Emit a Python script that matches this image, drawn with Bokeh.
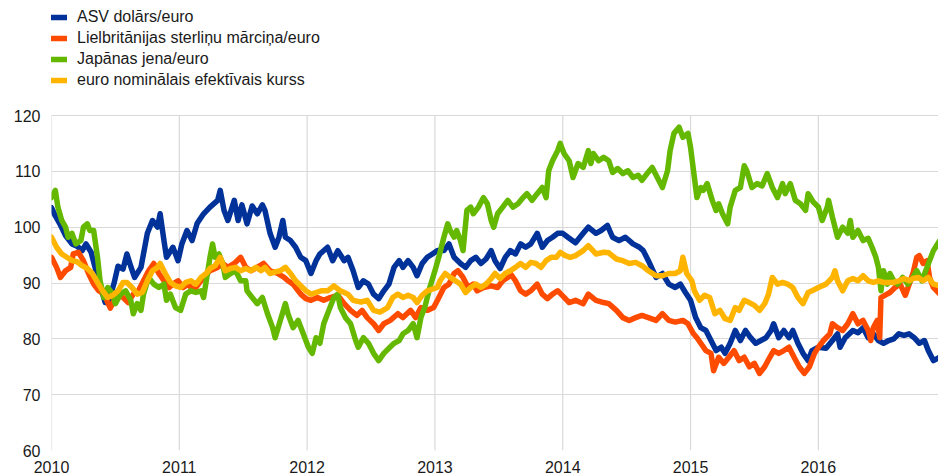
from bokeh.plotting import figure
from bokeh.models import Range1d, FixedTicker, Legend, LegendItem
from bokeh.embed import file_html
from bokeh.resources import INLINE

# ---- data (decimal years, index values) ----
usd_x = [2010.00, 2010.03, 2010.07, 2010.11, 2010.16, 2010.20, 2010.24, 2010.27, 2010.31, 2010.35,
         2010.38, 2010.42, 2010.45, 2010.49, 2010.52, 2010.56, 2010.59, 2010.62, 2010.65, 2010.70,
         2010.75, 2010.79, 2010.83, 2010.85, 2010.88, 2010.90, 2010.95, 2010.99, 2011.02, 2011.06,
         2011.10, 2011.14, 2011.19, 2011.24, 2011.30, 2011.32, 2011.35, 2011.38, 2011.43, 2011.46,
         2011.49, 2011.53, 2011.57, 2011.61, 2011.65, 2011.67, 2011.71, 2011.75, 2011.78, 2011.81,
         2011.83, 2011.87, 2011.91, 2011.95, 2011.99, 2012.03, 2012.07, 2012.10, 2012.16, 2012.20,
         2012.24, 2012.29, 2012.32, 2012.36, 2012.40, 2012.44, 2012.48, 2012.52, 2012.56, 2012.60,
         2012.64, 2012.68, 2012.72, 2012.75, 2012.79, 2012.83, 2012.86, 2012.90, 2012.94, 2012.98,
         2013.02, 2013.07, 2013.11, 2013.15, 2013.20, 2013.24, 2013.28, 2013.32, 2013.36, 2013.40,
         2013.44, 2013.47, 2013.51, 2013.55, 2013.59, 2013.63, 2013.67, 2013.71, 2013.75, 2013.80,
         2013.84, 2013.88, 2013.92, 2013.96, 2014.00, 2014.04, 2014.10, 2014.16, 2014.20, 2014.26,
         2014.30, 2014.35, 2014.39, 2014.44, 2014.49, 2014.55, 2014.60, 2014.63, 2014.67, 2014.73,
         2014.78, 2014.83, 2014.88, 2014.92, 2014.96, 2015.00, 2015.04, 2015.08, 2015.12, 2015.16,
         2015.20, 2015.24, 2015.27, 2015.31, 2015.35, 2015.39, 2015.43, 2015.47, 2015.51, 2015.55,
         2015.59, 2015.63, 2015.65, 2015.69, 2015.73, 2015.77, 2015.80, 2015.84, 2015.88, 2015.92,
         2015.95, 2016.00, 2016.06, 2016.11, 2016.15, 2016.17, 2016.21, 2016.27, 2016.31, 2016.35,
         2016.39, 2016.43, 2016.47, 2016.51, 2016.55, 2016.59, 2016.63, 2016.67, 2016.71, 2016.75,
         2016.79, 2016.83, 2016.86, 2016.90, 2016.95]
usd_y = [103.5, 102.0, 100.4, 98.5, 97.0, 96.6, 95.8, 97.0, 95.5, 92.0,
         89.5, 86.5, 87.0, 90.0, 93.0, 92.5, 95.2, 93.0, 91.0, 92.8,
         98.9, 101.2, 100.0, 102.4, 97.6, 94.6, 96.4, 94.0, 97.0, 99.4,
         97.6, 100.7, 102.4, 103.6, 104.8, 106.6, 103.0, 101.2, 104.8, 101.2,
         104.0, 100.6, 103.8, 102.4, 104.0, 103.0, 98.9, 96.4, 98.2, 101.2,
         98.2, 97.6, 96.4, 94.6, 94.0, 91.7, 94.0, 95.2, 96.4, 94.0,
         95.8, 94.0, 94.6, 92.2, 89.2, 90.4, 89.8, 88.0, 87.2, 88.6,
         89.8, 92.8, 94.0, 92.8, 94.0, 92.8, 91.3, 93.5, 94.6, 95.2,
         95.8, 95.8, 97.0, 94.6, 93.5, 92.8, 94.0, 94.6, 93.5, 94.3,
         95.8, 94.0, 92.6, 94.6, 95.8, 95.2, 97.0, 96.4, 97.0, 98.9,
         96.4, 97.6, 98.2, 98.9, 98.9, 98.2, 97.2, 98.9, 100.0, 98.9,
         99.4, 100.3, 98.2, 97.6, 98.2, 97.0, 96.4, 95.8, 94.0, 91.0,
         91.7, 89.8, 89.2, 89.8, 88.3, 86.9, 83.8, 82.0, 81.5, 79.7,
         77.9, 78.5, 77.4, 79.2, 81.5, 79.7, 81.5, 80.2, 79.2, 79.7,
         80.2, 81.5, 82.7, 80.2, 81.5, 80.2, 81.5, 79.2, 77.4, 76.1,
         77.9, 78.5, 78.3, 79.7, 80.9, 78.5, 80.2, 81.5, 81.1, 82.0,
         80.2, 80.9, 79.7, 79.2, 79.7, 80.0, 80.9, 80.6, 80.9, 80.2,
         79.2, 79.7, 77.9, 76.1, 76.7]

gbp_x = [2010.00, 2010.04, 2010.07, 2010.11, 2010.15, 2010.17, 2010.21, 2010.25, 2010.29, 2010.33,
         2010.37, 2010.41, 2010.46, 2010.49, 2010.52, 2010.56, 2010.60, 2010.64, 2010.68, 2010.72,
         2010.76, 2010.80, 2010.84, 2010.88, 2010.92, 2010.95, 2010.99, 2011.03, 2011.07, 2011.11,
         2011.15, 2011.19, 2011.24, 2011.30, 2011.34, 2011.38, 2011.43, 2011.48, 2011.52, 2011.56,
         2011.61, 2011.66, 2011.71, 2011.77, 2011.82, 2011.85, 2011.89, 2011.95, 2011.99, 2012.03,
         2012.08, 2012.13, 2012.18, 2012.24, 2012.29, 2012.34, 2012.39, 2012.43, 2012.47, 2012.52,
         2012.56, 2012.60, 2012.65, 2012.71, 2012.75, 2012.81, 2012.85, 2012.89, 2012.94, 2012.99,
         2013.02, 2013.07, 2013.11, 2013.15, 2013.18, 2013.22, 2013.26, 2013.30, 2013.33, 2013.38,
         2013.44, 2013.49, 2013.53, 2013.57, 2013.59, 2013.63, 2013.67, 2013.71, 2013.75, 2013.80,
         2013.84, 2013.88, 2013.92, 2013.96, 2014.00, 2014.05, 2014.10, 2014.16, 2014.20, 2014.26,
         2014.32, 2014.36, 2014.42, 2014.47, 2014.52, 2014.57, 2014.62, 2014.67, 2014.73, 2014.78,
         2014.83, 2014.88, 2014.94, 2014.98, 2015.02, 2015.05, 2015.08, 2015.12, 2015.16, 2015.18,
         2015.22, 2015.26, 2015.30, 2015.34, 2015.38, 2015.42, 2015.46, 2015.50, 2015.54, 2015.58,
         2015.62, 2015.65, 2015.69, 2015.73, 2015.77, 2015.81, 2015.85, 2015.89, 2015.93, 2015.97,
         2016.00, 2016.04, 2016.09, 2016.11, 2016.15, 2016.19, 2016.23, 2016.27, 2016.31, 2016.35,
         2016.39, 2016.41, 2016.43, 2016.46, 2016.48, 2016.49, 2016.52, 2016.56, 2016.60, 2016.64,
         2016.68, 2016.72, 2016.74, 2016.77, 2016.79, 2016.82, 2016.85, 2016.87, 2016.90, 2016.95]
gbp_y = [94.6, 92.8, 91.0, 92.2, 92.8, 95.2, 95.5, 94.0, 91.7, 89.8,
         88.6, 88.0, 85.5, 86.9, 88.0, 87.4, 86.5, 88.0, 88.6, 90.4,
         92.2, 93.5, 91.7, 90.4, 89.2, 89.8, 90.4, 89.2, 89.8, 88.6,
         89.8, 91.0, 92.2, 92.8, 93.5, 92.8, 93.5, 94.6, 92.8, 92.2,
         92.8, 93.5, 92.2, 91.7, 91.0, 90.4, 89.8, 88.0, 87.2, 86.9,
         87.4, 86.9, 87.4, 87.8, 86.3, 85.1, 84.2, 85.1, 83.8, 82.7,
         81.5, 82.7, 83.3, 84.5, 83.8, 85.1, 83.8, 85.6, 85.1, 85.6,
         86.9, 89.2, 89.8, 91.7, 92.2, 91.0, 89.2, 89.8, 88.6, 89.2,
         89.5, 89.2, 90.4, 91.0, 91.7, 90.4, 88.6, 88.0, 88.6, 89.8,
         88.0, 87.2, 88.0, 88.6, 87.7, 86.5, 86.9, 86.3, 88.0, 86.9,
         86.5, 86.3, 85.1, 83.8, 83.3, 83.8, 84.2, 83.8, 83.3, 84.5,
         83.3, 83.0, 83.3, 82.7, 81.0, 80.2, 79.2, 77.9, 77.4, 74.3,
         76.7, 75.6, 76.7, 77.9, 76.1, 76.7, 75.0, 75.6, 73.8, 75.0,
         76.7, 77.9, 77.4, 77.9, 78.5, 76.7, 75.0, 73.8, 75.0, 77.4,
         78.5, 79.7, 80.9, 82.7, 82.0, 81.5, 82.7, 84.5, 82.7, 83.3,
         81.5, 79.7, 82.0, 83.3, 80.2, 87.4, 87.8, 88.3, 89.2, 89.8,
         87.8, 90.4, 91.7, 94.6, 94.9, 93.5, 94.0, 91.0, 89.2, 88.0]

jpy_x = [2010.00, 2010.03, 2010.05, 2010.08, 2010.11, 2010.13, 2010.16, 2010.19, 2010.23, 2010.25,
         2010.28, 2010.30, 2010.33, 2010.36, 2010.38, 2010.41, 2010.44, 2010.48, 2010.50, 2010.54,
         2010.58, 2010.62, 2010.64, 2010.67, 2010.70, 2010.72, 2010.76, 2010.80, 2010.84, 2010.88,
         2010.90, 2010.93, 2010.97, 2011.01, 2011.05, 2011.09, 2011.13, 2011.17, 2011.19, 2011.22,
         2011.24, 2011.26, 2011.28, 2011.31, 2011.34, 2011.36, 2011.40, 2011.44, 2011.48, 2011.52,
         2011.53, 2011.57, 2011.61, 2011.65, 2011.69, 2011.73, 2011.75, 2011.79, 2011.83, 2011.85,
         2011.89, 2011.93, 2011.97, 2012.01, 2012.04, 2012.07, 2012.10, 2012.13, 2012.17, 2012.21,
         2012.24, 2012.26, 2012.30, 2012.34, 2012.38, 2012.40, 2012.44, 2012.48, 2012.52, 2012.56,
         2012.60, 2012.64, 2012.68, 2012.72, 2012.75, 2012.79, 2012.83, 2012.86, 2012.89, 2012.92,
         2012.96, 2013.00, 2013.03, 2013.07, 2013.10, 2013.12, 2013.15, 2013.17, 2013.20, 2013.22,
         2013.25, 2013.28, 2013.30, 2013.34, 2013.38, 2013.41, 2013.44, 2013.46, 2013.49, 2013.53,
         2013.57, 2013.61, 2013.65, 2013.69, 2013.72, 2013.76, 2013.80, 2013.84, 2013.87, 2013.89,
         2013.92, 2013.96, 2013.98, 2014.01, 2014.05, 2014.08, 2014.12, 2014.16, 2014.20, 2014.22,
         2014.24, 2014.28, 2014.32, 2014.36, 2014.39, 2014.43, 2014.47, 2014.51, 2014.55, 2014.59,
         2014.62, 2014.66, 2014.70, 2014.74, 2014.78, 2014.82, 2014.84, 2014.87, 2014.91, 2014.94,
         2014.98, 2015.00, 2015.02, 2015.05, 2015.08, 2015.10, 2015.13, 2015.17, 2015.20, 2015.22,
         2015.25, 2015.29, 2015.31, 2015.35, 2015.39, 2015.42, 2015.44, 2015.48, 2015.52, 2015.56,
         2015.60, 2015.64, 2015.68, 2015.72, 2015.74, 2015.78, 2015.82, 2015.86, 2015.90, 2015.92,
         2015.96, 2016.00, 2016.03, 2016.07, 2016.08, 2016.11, 2016.15, 2016.19, 2016.23, 2016.25,
         2016.27, 2016.31, 2016.35, 2016.39, 2016.42, 2016.45, 2016.47, 2016.49, 2016.51, 2016.54,
         2016.56, 2016.59, 2016.62, 2016.66, 2016.70, 2016.74, 2016.77, 2016.81, 2016.85, 2016.90,
         2016.95]
jpy_y = [105.3, 106.6, 103.6, 101.2, 100.0, 98.2, 98.9, 97.0, 97.6, 100.0,
         100.6, 99.4, 99.4, 94.6, 90.4, 87.4, 89.2, 88.0, 86.3, 88.0,
         88.6, 86.9, 84.5, 86.3, 85.1, 88.0, 91.0, 89.8, 89.2, 89.8,
         86.9, 88.0, 85.6, 85.1, 88.0, 88.6, 88.3, 88.6, 87.4, 91.7,
         94.6, 97.0, 94.6, 95.2, 93.5, 91.0, 91.7, 92.2, 90.4, 90.4,
         88.6, 87.4, 86.3, 87.4, 84.5, 82.0, 80.2, 83.3, 86.3, 84.5,
         82.0, 83.3, 80.9, 78.5, 77.4, 80.2, 79.2, 82.7, 85.1, 87.4,
         88.0, 85.6, 83.8, 82.7, 79.7, 78.5, 80.2, 79.2, 77.4, 76.1,
         77.4, 78.3, 79.2, 79.7, 80.9, 81.5, 82.7, 80.2, 83.8, 85.6,
         89.2, 92.2, 94.6, 98.2, 100.6, 99.4, 98.2, 99.4, 97.6, 95.8,
         103.0, 103.6, 102.4, 103.6, 105.3, 104.2, 101.2, 100.0, 102.4, 103.6,
         104.8, 103.6, 104.2, 105.3, 106.0, 104.8, 106.0, 107.1, 105.3, 110.1,
         111.9, 113.7, 115.0, 113.2, 111.9, 108.9, 111.4, 110.7, 113.7, 111.4,
         113.2, 111.9, 112.5, 111.9, 109.8, 110.5, 109.6, 110.1, 108.9, 109.3,
         108.4, 109.6, 110.7, 108.9, 107.1, 110.1, 113.7, 116.8, 117.9, 116.1,
         116.8, 114.3, 110.7, 105.3, 107.1, 106.6, 107.8, 104.8, 103.0, 104.2,
         102.4, 100.6, 103.6, 106.6, 107.1, 111.0, 110.1, 107.1, 107.8, 107.4,
         109.6, 107.1, 105.3, 107.8, 106.0, 107.8, 104.8, 104.2, 103.0, 106.0,
         104.5, 103.6, 101.2, 103.6, 104.8, 101.8, 98.2, 100.0, 98.9, 101.2,
         98.2, 99.4, 97.6, 98.0, 96.4, 94.6, 92.8, 88.6, 92.2, 89.8,
         91.7, 90.4, 89.8, 91.0, 89.8, 91.0, 92.2, 90.4, 92.8, 95.8,
         97.6]

eer_x = [2010.00, 2010.04, 2010.08, 2010.12, 2010.16, 2010.20, 2010.24, 2010.28, 2010.32, 2010.36,
         2010.40, 2010.44, 2010.48, 2010.52, 2010.56, 2010.59, 2010.63, 2010.67, 2010.71, 2010.75,
         2010.79, 2010.83, 2010.85, 2010.89, 2010.93, 2010.97, 2011.01, 2011.05, 2011.09, 2011.13,
         2011.17, 2011.21, 2011.24, 2011.28, 2011.32, 2011.36, 2011.40, 2011.44, 2011.48, 2011.52,
         2011.56, 2011.60, 2011.64, 2011.67, 2011.71, 2011.75, 2011.79, 2011.83, 2011.87, 2011.91,
         2011.95, 2011.99, 2012.03, 2012.07, 2012.11, 2012.16, 2012.21, 2012.26, 2012.32, 2012.36,
         2012.42, 2012.47, 2012.52, 2012.57, 2012.63, 2012.67, 2012.71, 2012.75, 2012.79, 2012.83,
         2012.86, 2012.90, 2012.94, 2012.98, 2013.02, 2013.04, 2013.08, 2013.12, 2013.16, 2013.20,
         2013.24, 2013.28, 2013.32, 2013.36, 2013.40, 2013.44, 2013.47, 2013.51, 2013.55, 2013.59,
         2013.63, 2013.67, 2013.71, 2013.75, 2013.79, 2013.83, 2013.87, 2013.91, 2013.95, 2013.98,
         2014.02, 2014.06, 2014.10, 2014.16, 2014.20, 2014.26, 2014.32, 2014.36, 2014.42, 2014.47,
         2014.52, 2014.57, 2014.62, 2014.67, 2014.73, 2014.78, 2014.83, 2014.88, 2014.92, 2014.94,
         2014.97, 2015.01, 2015.03, 2015.07, 2015.11, 2015.15, 2015.19, 2015.23, 2015.27, 2015.31,
         2015.35, 2015.38, 2015.42, 2015.46, 2015.50, 2015.54, 2015.58, 2015.61, 2015.64, 2015.68,
         2015.72, 2015.76, 2015.80, 2015.84, 2015.88, 2015.92, 2015.95, 2016.00, 2016.06, 2016.11,
         2016.13, 2016.15, 2016.19, 2016.23, 2016.27, 2016.31, 2016.35, 2016.39, 2016.43, 2016.47,
         2016.51, 2016.55, 2016.59, 2016.63, 2016.67, 2016.71, 2016.74, 2016.78, 2016.82, 2016.86,
         2016.90, 2016.95]
eer_y = [98.2, 96.4, 95.2, 94.6, 94.0, 93.8, 93.1, 92.6, 91.7, 90.1,
         88.6, 87.4, 87.8, 88.6, 90.1, 90.1, 89.2, 88.0, 88.3, 90.4,
         92.2, 92.8, 93.5, 91.7, 90.1, 89.5, 89.2, 90.1, 90.4, 89.8,
         91.0, 91.7, 92.6, 93.1, 94.6, 92.2, 92.6, 92.8, 92.2, 92.6,
         92.2, 92.8, 92.2, 92.8, 91.7, 92.0, 92.2, 92.8, 91.7, 90.4,
         89.5, 88.6, 88.0, 88.3, 88.6, 88.6, 89.5, 88.6, 88.0, 86.9,
         86.6, 86.9, 85.1, 84.8, 85.6, 87.4, 88.0, 87.4, 87.8, 87.4,
         86.5, 87.8, 88.6, 88.9, 89.2, 90.4, 91.7, 91.0, 90.4, 89.8,
         88.3, 89.2, 89.8, 89.2, 89.8, 90.8, 91.7, 90.8, 91.7, 92.2,
         92.8, 93.5, 92.8, 93.7, 93.5, 92.8, 94.0, 94.6, 94.6, 95.5,
         94.9, 94.6, 94.9, 95.8, 96.7, 95.2, 95.5, 95.4, 94.3, 94.0,
         93.5, 93.7, 93.1, 92.2, 91.3, 91.3, 91.7, 91.7, 92.2, 94.6,
         91.7, 90.4, 88.6, 86.9, 87.8, 87.4, 84.5, 85.1, 83.6, 83.3,
         85.6, 85.1, 86.9, 86.5, 86.0, 85.1, 86.3, 88.0, 91.0, 89.8,
         90.1, 89.8, 89.2, 87.4, 86.3, 88.3, 88.6, 89.2, 89.8, 91.0,
         92.2, 90.4, 88.6, 90.4, 90.8, 90.4, 91.3, 90.4, 90.1, 90.4,
         90.1, 90.1, 90.1, 90.4, 90.8, 90.4, 90.8, 91.0, 90.4, 91.0,
         89.8, 89.5]

series_names = ["ASV dolārs/euro",
                "Lielbritānijas sterliņu mārciņa/euro",
                "Japānas jena/euro",
                "euro nominālais efektīvais kurss"]
series_colors = ["#003299", "#ff4b00", "#65b800", "#ffb400"]
year_ticks = [2010, 2011, 2012, 2013, 2014, 2015, 2016]
y_ticks = [60, 70, 80, 90, 100, 110, 120]

FONT = "Liberation Sans"
GRID = "#d9d9d9"

# frame extends to the figure top so the legend sits inside it
p = figure(width=938, height=475, output_backend="svg", toolbar_location=None,
           x_range=Range1d(2010, 2016.94), y_range=Range1d(60, 140.6),
           min_border_left=51, min_border_right=0, min_border_top=0,
           min_border_bottom=25)
p.outline_line_color = None
p.background_fill_color = "white"

# vertical grid lines only over the value range
n = len(year_ticks)
p.segment(x0=year_ticks, y0=[y_ticks[0]] * n, x1=year_ticks, y1=[y_ticks[-1]] * n,
          line_color=GRID, line_width=1.2)

renderers = []
for xs, ys, c in [(usd_x, usd_y, series_colors[0]), (gbp_x, gbp_y, series_colors[1]),
                  (jpy_x, jpy_y, series_colors[2]), (eer_x, eer_y, series_colors[3])]:
    r = p.line(xs, ys, line_color=c, line_width=5.5, line_join="round", line_cap="round")
    renderers.append(r)

p.xaxis.ticker = FixedTicker(ticks=year_ticks)
p.yaxis.ticker = FixedTicker(ticks=y_ticks)
for ax in (p.xaxis, p.yaxis):
    ax.axis_line_color = None
    ax.major_tick_line_color = None
    ax.minor_tick_line_color = None
    ax.major_tick_out = 0
    ax.major_tick_in = 0
    ax.minor_tick_out = 0
    ax.minor_tick_in = 0
    ax.major_label_text_font = FONT
    ax.major_label_text_font_size = "16px"
    ax.major_label_text_color = "#1a1a1a"
p.xaxis.major_label_standoff = 10
p.yaxis.major_label_standoff = 11

p.xgrid.visible = False
p.ygrid.ticker = FixedTicker(ticks=y_ticks)
p.ygrid.grid_line_color = GRID
p.ygrid.grid_line_width = 1.2

legend = Legend(items=[LegendItem(label=nm, renderers=[r]) for nm, r in zip(series_names, renderers)],
                location=(-1, 360))
legend.padding = 0
legend.margin = 0
legend.spacing = 1
legend.glyph_width = 17
legend.glyph_height = 20
legend.label_height = 20
legend.label_standoff = 10
legend.label_text_font = FONT
legend.label_text_font_size = "16px"
legend.label_text_color = "#1a1a1a"
legend.border_line_color = None
legend.background_fill_alpha = 0
p.add_layout(legend, "center")

open("out.html", "w").write(file_html(p, INLINE))
